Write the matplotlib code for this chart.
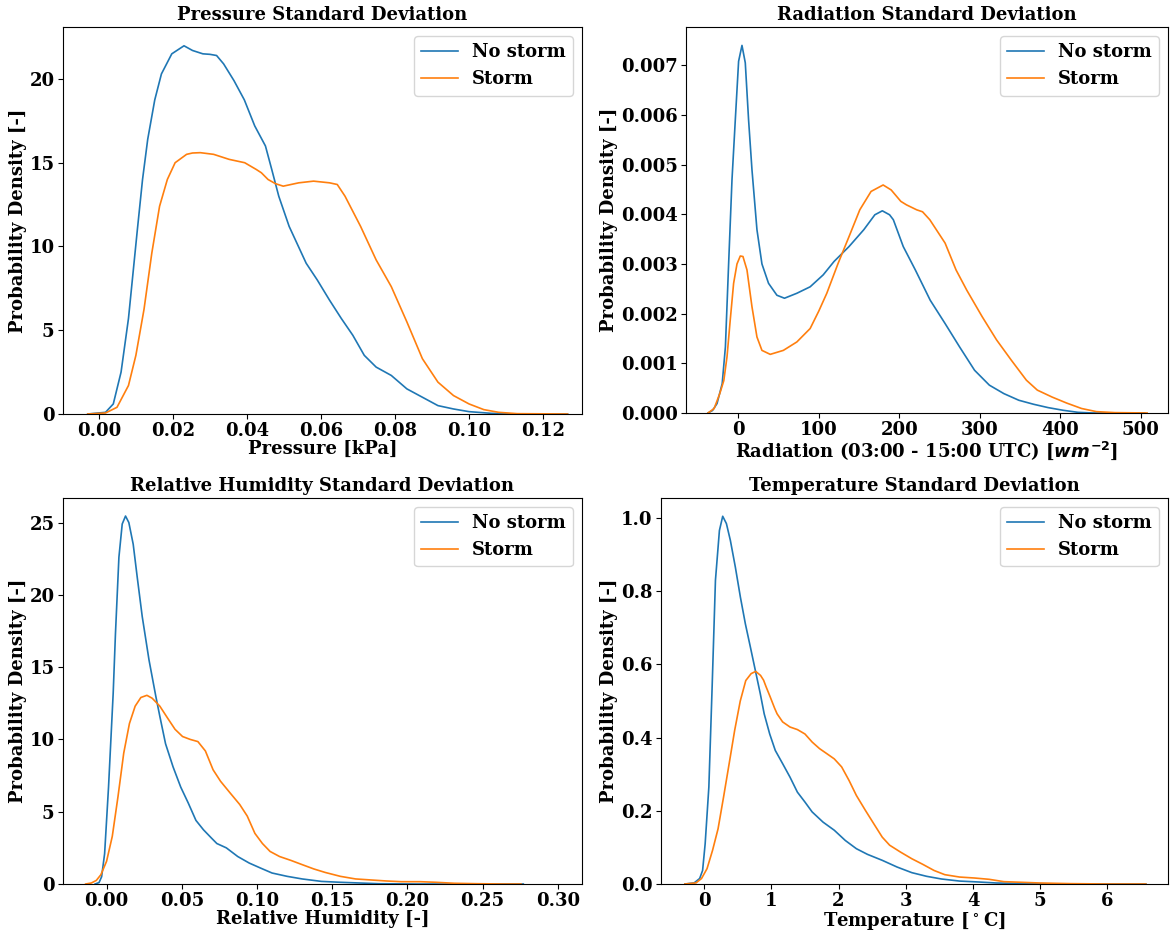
import numpy as np
import matplotlib
matplotlib.use("Agg")
import matplotlib.pyplot as plt

plt.rcParams['font.family'] = 'DejaVu Serif'
plt.rcParams['font.weight'] = 'bold'
plt.rcParams['axes.labelweight'] = 'bold'
plt.rcParams['axes.titleweight'] = 'bold'
plt.rcParams['font.size'] = 13

# pressure std (kPa)
p_ns_x = [-0.003, 0.0018, 0.0039, 0.006, 0.008, 0.0104, 0.0118, 0.0132, 0.0151, 0.0169, 0.0197, 0.023,
          0.0253, 0.0281, 0.030, 0.0318, 0.0337, 0.0365, 0.0393, 0.0421, 0.045, 0.0467, 0.0486, 0.0514,
          0.056, 0.059, 0.0623, 0.0655, 0.0686, 0.0717, 0.0749, 0.079, 0.0832, 0.0874, 0.0916, 0.0958,
          0.10, 0.106, 0.113, 0.1266]
p_ns_y = [0, 0.1, 0.6, 2.5, 5.7, 11.0, 14.0, 16.4, 18.75, 20.3, 21.5, 21.98,
          21.7, 21.5, 21.47, 21.4, 20.9, 19.9, 18.75, 17.2, 16.0, 14.6, 13.0, 11.2,
          9.0, 8.0, 6.8, 5.7, 4.7, 3.5, 2.8, 2.3, 1.5, 1.0, 0.5, 0.3,
          0.14, 0.04, 0.0, 0.0]
p_s_x = [-0.003, 0.0018, 0.0049, 0.008, 0.010, 0.0122, 0.0143, 0.0164, 0.0185, 0.0206, 0.0237, 0.0253,
         0.0274, 0.031, 0.0352, 0.0394, 0.0425, 0.0439, 0.0457, 0.0477, 0.0498, 0.054, 0.058, 0.0623,
         0.0644, 0.0665, 0.0707, 0.0749, 0.079, 0.0832, 0.0874, 0.0916, 0.0958, 0.10, 0.104, 0.108,
         0.113, 0.1266]
p_s_y = [0, 0.06, 0.4, 1.7, 3.5, 6.25, 9.6, 12.4, 14.0, 15.0, 15.5, 15.58,
         15.6, 15.5, 15.2, 15.0, 14.6, 14.4, 14.0, 13.75, 13.6, 13.8, 13.9, 13.8,
         13.7, 13.0, 11.2, 9.2, 7.6, 5.5, 3.3, 1.9, 1.1, 0.6, 0.26, 0.1,
         0.02, 0.0]

# radiation std
r_ns_x = [-37.6, -32, -26.4, -20, -16, -12, -7.8, -3.7, 0.4, 4.6, 8.7, 12.8, 17, 23.2, 29.4, 37.6, 48,
          57.4, 72.8, 89.3, 105.5, 119, 137.6, 156, 169.7, 179, 188, 192.7, 205, 220, 238.5, 257, 275,
          293.6, 312, 330, 348.6, 367, 385, 403.7, 422, 440, 505]
r_ns_y = [0, 0.00005, 0.00019, 0.00059, 0.00133, 0.0030, 0.0047, 0.0059, 0.00708, 0.0074, 0.00705,
          0.0059, 0.0049, 0.00369, 0.0030, 0.00261, 0.00237, 0.00231, 0.00241, 0.00254, 0.00278,
          0.00305, 0.00335, 0.00369, 0.00399, 0.00407, 0.00399, 0.00389, 0.00335, 0.00288, 0.00227,
          0.0018, 0.00133, 0.00086, 0.00056, 0.00039, 0.000256, 0.000175, 0.000108, 0.000054,
          0.000013, 0.0, 0.0]
r_s_x = [-37.6, -30, -23, -18, -14, -10, -5.8, -1.6, 2.5, 5.8, 10.8, 17, 23.2, 29.4, 39.7, 56, 72.8,
         89.3, 100, 110, 124, 137.6, 151, 165, 180, 190, 202, 209, 221.7, 229, 238, 257, 270.6, 284,
         303, 321, 339.4, 358, 371.6, 390, 408, 426.6, 445, 468, 508]
r_s_y = [0, 0.00009, 0.00039, 0.00065, 0.00113, 0.00187, 0.00261, 0.0030, 0.00316, 0.00315, 0.00288,
         0.00214, 0.00153, 0.00126, 0.00118, 0.00126, 0.00143, 0.0017, 0.00205, 0.00241, 0.00301,
         0.00355, 0.00409, 0.00446, 0.00459, 0.00449, 0.00426, 0.00419, 0.00409, 0.00405, 0.00389,
         0.00342, 0.00288, 0.00247, 0.00194, 0.00147, 0.00106, 0.00066, 0.00046, 0.00032, 0.0002,
         0.00009, 0.000027, 0.000007, 0.0]

# relative humidity std
h_ns_x = [-0.0076, -0.005, -0.0033, -0.0013, 0.0013, 0.0044, 0.0059, 0.0082, 0.0104, 0.0126, 0.0148,
          0.0177, 0.0204, 0.0237, 0.0282, 0.0327, 0.0354, 0.0392, 0.0442, 0.0493, 0.0543, 0.0594,
          0.0644, 0.0695, 0.0733, 0.0796, 0.0872, 0.0948, 0.1024, 0.11, 0.12, 0.130, 0.1428, 0.155,
          0.168, 0.181, 0.206, 0.277]
h_ns_y = [0, 0.1, 0.5, 2.1, 6.7, 13.2, 17.3, 22.6, 24.9, 25.45, 25.0, 23.5, 21.2, 18.5, 15.5, 13.0,
          11.6, 9.7, 8.1, 6.7, 5.6, 4.4, 3.75, 3.2, 2.8, 2.5, 1.9, 1.45, 1.1, 0.76, 0.53, 0.35, 0.18,
          0.12, 0.07, 0.02, 0.0, 0.0]
h_s_x = [-0.0139, -0.0101, -0.0068, -0.0038, 0.0, 0.0038, 0.0076, 0.0114, 0.0152, 0.019, 0.0228,
         0.0268, 0.0303, 0.0354, 0.0404, 0.0455, 0.0505, 0.0556, 0.0607, 0.0657, 0.0708, 0.0758, 0.0821,
         0.0885, 0.0935, 0.0986, 0.1036, 0.1087, 0.115, 0.1226, 0.130, 0.1378, 0.1453, 0.1554, 0.1655,
         0.1756, 0.1858, 0.1959, 0.2085, 0.2186, 0.2312, 0.2464, 0.264, 0.2755]
h_s_y = [0, 0.07, 0.25, 0.64, 1.57, 3.3, 6.05, 9.05, 11.1, 12.3, 12.9, 13.05, 12.85, 12.3, 11.5, 10.7,
         10.2, 10.0, 9.85, 9.2, 7.9, 7.1, 6.3, 5.5, 4.7, 3.5, 2.8, 2.25, 1.9, 1.63, 1.34, 1.04, 0.8,
         0.53, 0.35, 0.28, 0.21, 0.16, 0.16, 0.12, 0.05, 0.02, 0.0, 0.0]

# temperature std
t_ns_x = [-0.285, -0.148, -0.066, -0.022, 0.016, 0.071, 0.12, 0.169, 0.228, 0.277, 0.332, 0.391, 0.465,
          0.54, 0.614, 0.688, 0.762, 0.836, 0.894, 0.976, 1.059, 1.168, 1.278, 1.388, 1.5, 1.607, 1.77,
          1.936, 2.1, 2.265, 2.43, 2.65, 2.87, 3.09, 3.31, 3.53, 3.8, 4.08, 4.35, 4.9, 5.45, 6.57]
t_ns_y = [0, 0.003, 0.015, 0.037, 0.11, 0.265, 0.54, 0.83, 0.966, 1.005, 0.985, 0.939, 0.866, 0.784,
          0.711, 0.648, 0.584, 0.52, 0.465, 0.41, 0.365, 0.329, 0.292, 0.251, 0.224, 0.197, 0.169,
          0.147, 0.119, 0.0965, 0.081, 0.0647, 0.0464, 0.031, 0.021, 0.0137, 0.008, 0.0055, 0.0027,
          0.001, 0.0, 0.0]
t_s_x = [-0.285, -0.12, -0.038, 0.044, 0.126, 0.208, 0.29, 0.373, 0.455, 0.538, 0.62, 0.70, 0.768,
         0.84, 0.885, 0.92, 0.984, 1.05, 1.086, 1.168, 1.278, 1.388, 1.5, 1.607, 1.717, 1.827, 1.936,
         2.046, 2.156, 2.265, 2.4, 2.54, 2.65, 2.76, 2.92, 3.09, 3.25, 3.42, 3.58, 3.8, 4.02, 4.24,
         4.46, 4.73, 5.0, 5.45, 6.0, 6.57]
t_s_y = [0, 0.003, 0.015, 0.042, 0.092, 0.151, 0.238, 0.329, 0.42, 0.50, 0.556, 0.575, 0.581, 0.57,
         0.557, 0.54, 0.511, 0.48, 0.465, 0.443, 0.429, 0.422, 0.41, 0.388, 0.37, 0.356, 0.342, 0.32,
         0.283, 0.242, 0.201, 0.16, 0.128, 0.106, 0.0874, 0.069, 0.054, 0.037, 0.0255, 0.019, 0.0164,
         0.0128, 0.0064, 0.0046, 0.0027, 0.001, 0.0, 0.0]

titles = ['Pressure Standard Deviation', 'Radiation Standard Deviation',
          'Relative Humidity Standard Deviation', 'Temperature Standard Deviation']
xlabels = ['Pressure [kPa]', 'Radiation (03:00 - 15:00 UTC) [$wm^{-2}$]',
           'Relative Humidity [-]', 'Temperature [$^\\circ$C]']
series = [(p_ns_x, p_ns_y, p_s_x, p_s_y), (r_ns_x, r_ns_y, r_s_x, r_s_y),
          (h_ns_x, h_ns_y, h_s_x, h_s_y), (t_ns_x, t_ns_y, t_s_x, t_s_y)]
xlims = [(-0.0097, 0.1305), (-65, 534), (-0.029, 0.316), (-0.64, 6.9)]
ylims = [(0, 23.1), (0, 0.00777), (0, 26.7), (0, 1.055)]
positions = [[0.0538, 0.5558, 0.4436, 0.4152], [0.5863, 0.5569, 0.412, 0.4141],
             [0.0538, 0.0515, 0.4436, 0.4142], [0.565, 0.0515, 0.4333, 0.4142]]

fig = plt.figure(figsize=(11.7, 9.32), dpi=100)
for i in range(4):
    ax = fig.add_axes(positions[i])
    xa, ya, xb, yb = series[i]
    ax.plot(xa, ya, color='tab:blue', lw=1.2, label='No storm')
    ax.plot(xb, yb, color='tab:orange', lw=1.2, label='Storm')
    ax.set_xlim(*xlims[i])
    ax.set_ylim(*ylims[i])
    ax.tick_params(pad=2.5)
    ax.set_title(titles[i], fontsize=13, pad=5)
    ax.set_xlabel(xlabels[i], labelpad=0)
    ax.set_ylabel('Probability Density [-]', labelpad=2)
    ax.legend(loc='upper right')

fig.savefig('out.png', dpi=100)
